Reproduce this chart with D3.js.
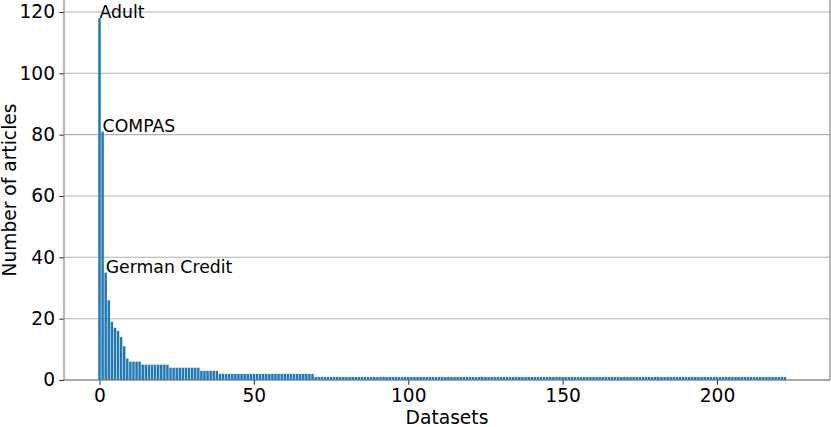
<!DOCTYPE html>
<html>
<head>
<meta charset="utf-8">
<script src="https://cdn.jsdelivr.net/npm/d3@7"></script>
<style>
  body { margin: 0; background: #fff; }
  svg text { font-family: "DejaVu Sans", sans-serif; fill: #000; }
</style>
</head>
<body>
<svg id="chart" width="831" height="427"></svg>
<script>
// number of articles per dataset, sorted descending (one bar per dataset)
const articleCounts = [
    118, 81, 35, 26, 19, 17, 16, 14, 11, 7,
    6, 6, 6, 6,
    5, 5, 5, 5, 5, 5, 5, 5, 5,
    4, 4, 4, 4, 4, 4, 4, 4, 4, 4,
    3, 3, 3, 3, 3, 3,
    2, 2, 2, 2, 2, 2, 2, 2, 2, 2, 2, 2, 2, 2, 2, 2,
    2, 2, 2, 2, 2, 2, 2, 2, 2, 2, 2, 2, 2, 2, 2,
    1, 1, 1, 1, 1, 1, 1, 1, 1, 1, 1, 1, 1, 1, 1, 1, 1, 1, 1, 1,
    1, 1, 1, 1, 1, 1, 1, 1, 1, 1, 1, 1, 1, 1, 1, 1, 1, 1, 1, 1,
    1, 1, 1, 1, 1, 1, 1, 1, 1, 1, 1, 1, 1, 1, 1, 1, 1, 1, 1, 1,
    1, 1, 1, 1, 1, 1, 1, 1, 1, 1, 1, 1, 1, 1, 1, 1, 1, 1, 1, 1,
    1, 1, 1, 1, 1, 1, 1, 1, 1, 1, 1, 1, 1, 1, 1, 1, 1, 1, 1, 1,
    1, 1, 1, 1, 1, 1, 1, 1, 1, 1, 1, 1, 1, 1, 1, 1, 1, 1, 1, 1,
    1, 1, 1, 1, 1, 1, 1, 1, 1, 1, 1, 1, 1, 1, 1, 1, 1, 1, 1, 1,
    1, 1, 1, 1, 1, 1, 1, 1, 1, 1, 1, 1, 1
];

// named datasets annotated on the chart (index into articleCounts)
const labelNames = ["Adult", "COMPAS", "German Credit"];
const labelIndex = [0, 1, 2];

const xTicks = [0, 50, 100, 150, 200];
const yTicks = [0, 20, 40, 60, 80, 100, 120];

const svg = d3.select("#chart");
const margin = {top: 0, right: 1, bottom: 47, left: 64};
const W = 831, H = 427;
const plotW = W - margin.left - margin.right;
const plotH = H - margin.top - margin.bottom;

const x = d3.scaleLinear().domain([-11.5, 236.6]).range([0, plotW]);
const y = d3.scaleLinear().domain([0, 123.9]).range([plotH, 0]);

const g = svg.append("g").attr("transform", `translate(${margin.left},${margin.top})`);

// horizontal gridlines (behind bars)
g.append("g")
  .selectAll("line")
  .data(yTicks)
  .join("line")
    .attr("x1", 0).attr("x2", plotW)
    .attr("y1", d => y(d)).attr("y2", d => y(d))
    .attr("stroke", "#b0b0b0")
    .attr("stroke-width", 1.07);

// bars
const barW = 0.8;
g.append("g")
  .selectAll("rect")
  .data(articleCounts)
  .join("rect")
    .attr("x", (d, i) => x(i - barW / 2))
    .attr("width", x(barW) - x(0))
    .attr("y", d => y(d))
    .attr("height", d => y(0) - y(d))
    .attr("fill", "#1f77b4");

// annotations
g.append("g")
  .selectAll("text")
  .data(labelNames)
  .join("text")
    .attr("x", (d, i) => x(labelIndex[i]))
    .attr("y", (d, i) => y(articleCounts[labelIndex[i]]))
    .style("font-size", "17.3px")
    .text(d => d);

// axes
const xAxis = g.append("g")
    .attr("transform", `translate(0,${plotH})`)
    .call(d3.axisBottom(x).tickValues(xTicks).tickFormat(d3.format("d")).tickSize(4.7).tickPadding(3.5));
const yAxis = g.append("g")
    .call(d3.axisLeft(y).tickValues(yTicks).tickFormat(d3.format("d")).tickSize(4.7).tickPadding(4.2));

[xAxis, yAxis].forEach(ax => {
    ax.select(".domain").remove();
    ax.selectAll("line").attr("stroke", "#333").attr("stroke-width", 1.07);
    ax.selectAll("text").style("font-size", "18.67px").attr("fill", "#000");
});
xAxis.selectAll("text").attr("dy", "0.73em");

// spines: left, bottom, right
const spine = g.append("g").attr("stroke", "#7a7a7a").attr("stroke-width", 1.07).attr("fill", "none");
spine.append("line").attr("x1", 0).attr("x2", 0).attr("y1", 0).attr("y2", plotH);
spine.append("line").attr("x1", 0).attr("x2", plotW).attr("y1", plotH).attr("y2", plotH);
spine.append("line").attr("x1", plotW).attr("x2", plotW).attr("y1", 0).attr("y2", plotH);

// axis labels
svg.append("text")
    .attr("x", margin.left + plotW / 2)
    .attr("y", 424)
    .attr("text-anchor", "middle")
    .style("font-size", "18.67px")
    .text("Datasets");

svg.append("text")
    .attr("transform", `translate(16,${margin.top + plotH / 2}) rotate(-90)`)
    .attr("text-anchor", "middle")
    .style("font-size", "18.67px")
    .text("Number of articles");
</script>
</body>
</html>
